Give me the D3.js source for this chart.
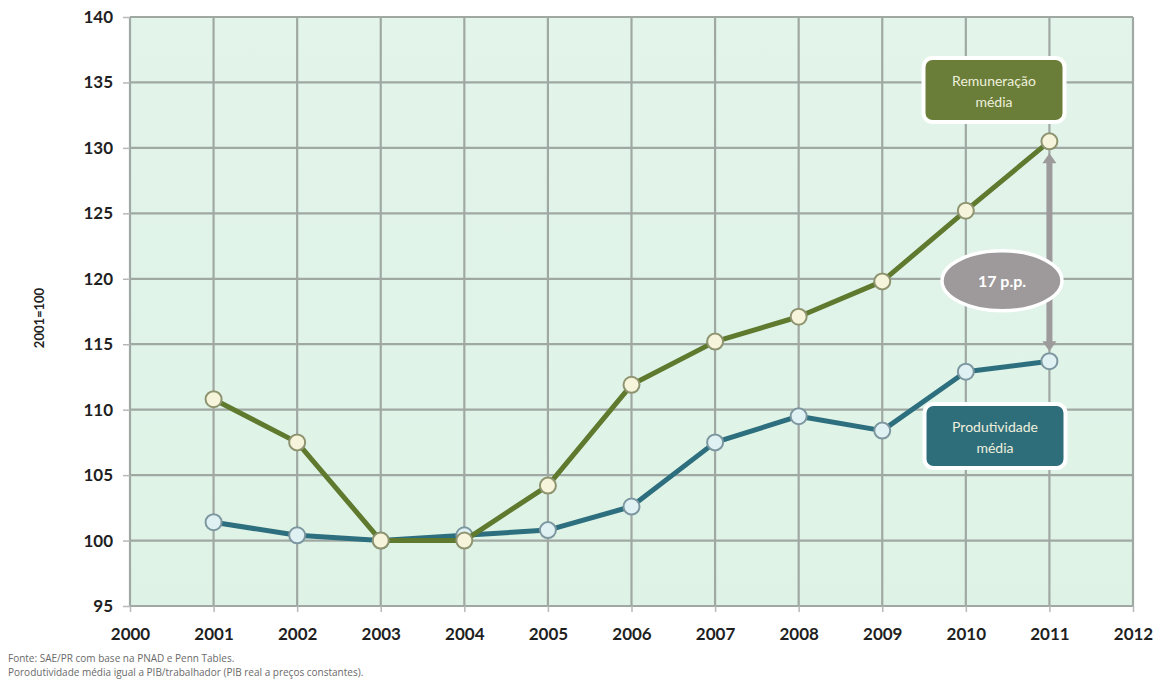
<!DOCTYPE html>
<html>
<head>
<meta charset="utf-8">
<script src="https://cdn.jsdelivr.net/npm/d3@7"></script>
<style>
  html, body { margin: 0; padding: 0; background: #ffffff; }
  svg { display: block; font-family: Lato, "Open Sans", sans-serif; }
</style>
</head>
<body>
<svg id="chart" width="1162" height="685"></svg>
<script>
// Index 2001 = 100: average pay vs. average productivity
const years = [2001, 2002, 2003, 2004, 2005, 2006, 2007, 2008, 2009, 2010, 2011];
const remuneracao = [110.8, 107.5, 100.0, 100.0, 104.2, 111.9, 115.2, 117.1, 119.8, 125.2, 130.5];
const produtividade = [101.4, 100.4, 100.0, 100.4, 100.8, 102.6, 107.5, 109.5, 108.4, 112.9, 113.7];
const xTicks = [2000, 2001, 2002, 2003, 2004, 2005, 2006, 2007, 2008, 2009, 2010, 2011, 2012];
const yTicks = [95, 100, 105, 110, 115, 120, 125, 130, 135, 140];
const gapLabel = "17 p.p.";
const notes = [
  "Fonte: SAE/PR com base na PNAD e Penn Tables.",
  "Porodutividade média igual a PIB/trabalhador (PIB real a preços constantes)."
];

const svg = d3.select("#chart");
const plotL = 130, plotR = 1133, plotT = 17, plotB = 606;

const x = d3.scaleLinear().domain([2000, 2012]).range([plotL, plotR]);
const y = d3.scaleLinear().domain([95, 140]).range([plotB, plotT]);

// plot background
const defs = svg.append("defs");
const grad = defs.append("linearGradient").attr("id", "bg").attr("x1", 0).attr("y1", 0).attr("x2", 0).attr("y2", 1);
grad.append("stop").attr("offset", "0%").attr("stop-color", "#e3f4eb");
grad.append("stop").attr("offset", "100%").attr("stop-color", "#def3e6");
svg.append("rect").attr("x", plotL).attr("y", plotT).attr("width", plotR - plotL).attr("height", plotB - plotT)
  .attr("fill", "url(#bg)");

// grid
const gridColor = "#a0a8a3";
svg.append("g").selectAll("line").data(yTicks).join("line")
  .attr("x1", plotL).attr("x2", plotR).attr("y1", d => y(d)).attr("y2", d => y(d))
  .attr("stroke", gridColor).attr("stroke-width", 2.2);
svg.append("g").selectAll("line").data(xTicks).join("line")
  .attr("y1", plotT).attr("y2", plotB).attr("x1", d => x(d)).attr("x2", d => x(d))
  .attr("stroke", gridColor).attr("stroke-width", 2.2);

// axes
const yAxis = svg.append("g").attr("transform", `translate(${plotL},0)`)
  .call(d3.axisLeft(y).tickValues(yTicks).tickSize(7).tickPadding(10));
const xAxis = svg.append("g").attr("transform", `translate(0,${plotB})`)
  .call(d3.axisBottom(x).tickValues(xTicks).tickFormat(d3.format("d")).tickSize(6).tickPadding(16));
[yAxis, xAxis].forEach(a => {
  a.select(".domain").remove();
  a.selectAll(".tick line").attr("stroke", "#b5b9b7").attr("stroke-width", 1.5);
  a.selectAll(".tick text").attr("fill", "#1f1f1f").attr("font-size", 17).attr("font-weight", 700)
    .attr("font-family", "Lato, sans-serif");
});

// y axis title
svg.append("text").attr("transform", "translate(44,318) rotate(-90)")
  .attr("text-anchor", "middle").attr("font-size", 13).attr("font-weight", 700).attr("fill", "#222")
  .text("2001=100");

// series
const line = d3.line().x((d, i) => x(years[i])).y(d => y(d));
function drawSeries(values, stroke, dotFill, dotStroke) {
  svg.append("path").datum(values).attr("d", line).attr("fill", "none")
    .attr("stroke", stroke).attr("stroke-width", 5).attr("stroke-linejoin", "round");
  svg.append("g").selectAll("circle").data(values).join("circle")
    .attr("cx", (d, i) => x(years[i])).attr("cy", d => y(d)).attr("r", 8)
    .attr("fill", dotFill).attr("stroke", dotStroke).attr("stroke-width", 2);
}
drawSeries(produtividade, "#2d6f7e", "#e0f1f4", "#7d97a0");
drawSeries(remuneracao, "#5f7a2e", "#f6f4da", "#8f9470");

// double-headed arrow showing the gap in 2011
const last = years.length - 1;
const ax = x(years[last]);
const yTop = y(remuneracao[last]) + 12, yBot = y(produtividade[last]) - 10;
const arrowColor = "#9c9a9b";
svg.append("rect").attr("x", ax - 3).attr("y", yTop + 8).attr("width", 6).attr("height", yBot - yTop - 16)
  .attr("fill", arrowColor);
svg.append("path").attr("d", `M${ax},${yTop} L${ax - 7},${yTop + 10} L${ax + 7},${yTop + 10} Z`).attr("fill", arrowColor);
svg.append("path").attr("d", `M${ax},${yBot} L${ax - 7},${yBot - 10} L${ax + 7},${yBot - 10} Z`).attr("fill", arrowColor);

// gap label bubble, just below the 120 gridline
const gapY = y(120) + 2;
svg.append("ellipse").attr("cx", 1002).attr("cy", gapY).attr("rx", 60).attr("ry", 30)
  .attr("fill", "#9e9a9b").attr("stroke", "#ffffff").attr("stroke-width", 3.5);
svg.append("text").attr("x", 1002).attr("y", gapY + 6).attr("text-anchor", "middle")
  .attr("font-size", 16).attr("font-weight", 700).attr("fill", "#ffffff").text(gapLabel);

// series labels
function labelBox(cx, cy, fill, lines) {
  const w = 141, h = 64;
  svg.append("rect").attr("x", cx - w / 2).attr("y", cy - h / 2).attr("width", w).attr("height", h)
    .attr("rx", 9).attr("fill", fill).attr("stroke", "#ffffff").attr("stroke-width", 4);
  lines.forEach((t, i) => {
    svg.append("text").attr("x", cx).attr("y", cy - 4 + i * 21).attr("text-anchor", "middle")
      .attr("font-size", 14).attr("fill", "#eef0dc").text(t);
  });
}
labelBox(994, 90, "#6a7e39", ["Remuneração", "média"]);
labelBox(995, 436, "#2e6e7b", ["Produtividade", "média"]);

// footnotes
notes.forEach((t, i) => {
  svg.append("text").attr("x", 8).attr("y", 662 + i * 14).attr("font-size", 10).attr("fill", "#6a6a6a")
    .attr("font-family", "'Open Sans', sans-serif").text(t);
});
</script>
</body>
</html>
